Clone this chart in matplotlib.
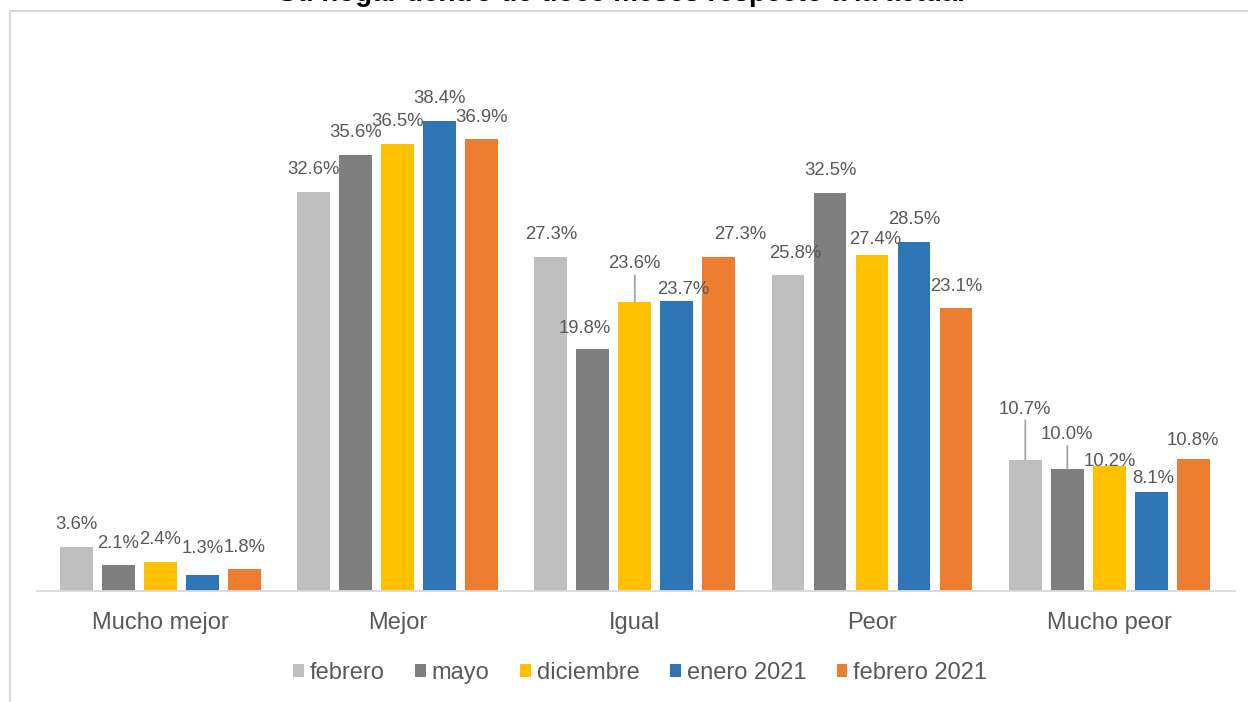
import matplotlib.pyplot as plt
import numpy as np

plt.rcParams['font.family'] = ['Liberation Sans', 'DejaVu Sans']

categories = ["Mucho mejor", "Mejor", "Igual", "Peor", "Mucho peor"]
series_names = ["febrero", "mayo", "diciembre", "enero 2021", "febrero 2021"]
febrero = [3.6, 32.6, 27.3, 25.8, 10.7]
mayo = [2.1, 35.6, 19.8, 32.5, 10.0]
diciembre = [2.4, 36.5, 23.6, 27.4, 10.2]
enero_2021 = [1.3, 38.4, 23.7, 28.5, 8.1]
febrero_2021 = [1.8, 36.9, 27.3, 23.1, 10.8]
title = "Su hogar dentro de doce meses respecto a la actual"

colors = ["#BFBFBF", "#7F7F7F", "#FFC000", "#2E75B6", "#ED7D31"]
text_color = "#595959"

# label nudges in pixels (series, category) -> (dx, dy, leader line)
nudges = {
    (3, 0): (0, 5, False),
    (1, 2): (-8, -2, False),
    (2, 2): (0, 16, True),
    (3, 2): (6, -11, False),
    (4, 2): (21, 0, False),
    (0, 3): (7, 0, False),
    (2, 3): (3, -6, False),
    (0, 4): (0, 29, True),
    (1, 4): (0, 12, True),
    (2, 4): (0, -17, False),
    (3, 4): (2, -9, False),
    (4, 4): (0, -4, False),
}


def main():
    data = [febrero, mayo, diciembre, enero_2021, febrero_2021]
    x = np.arange(len(categories))
    step = 0.177
    width = 0.138

    fig = plt.figure(figsize=(12.48, 7.02), dpi=100)
    ax = fig.add_axes([0.0296, 0.158, 0.96, 0.698])

    for i, (name, vals) in enumerate(zip(series_names, data)):
        xs = x + (i - 2) * step
        ax.bar(xs, vals, width, color=colors[i], label=name, zorder=2)
        for j, v in enumerate(vals):
            dx, dy, leader = nudges.get((i, j), (0, 0, False))
            kw = {}
            if leader:
                kw["arrowprops"] = dict(arrowstyle="-", color="#A6A6A6", lw=1.3,
                                        shrinkA=0, shrinkB=0, relpos=(0.5, 0))
            ax.annotate(f"{v:.1f}%", xy=(xs[j], v), xytext=(dx, 22 + dy),
                        textcoords="offset pixels", ha="center", va="center",
                        fontsize=13.3, color=text_color, **kw)

    ax.set_xlim(-0.52, 4.53)
    ax.set_ylim(0, 40)
    ax.set_xticks(x)
    ax.set_xticklabels(categories, fontsize=17, color=text_color)
    ax.tick_params(axis="x", length=0, pad=15)
    ax.set_yticks([])
    for s in ["top", "left", "right"]:
        ax.spines[s].set_visible(False)
    ax.spines["bottom"].set_color("#D9D9D9")
    ax.spines["bottom"].set_linewidth(1.3)

    leg = fig.legend(loc="center", bbox_to_anchor=(0.513, 0.041), ncol=5,
                     frameon=False, fontsize=17, handlelength=0.45,
                     handleheight=0.45, handletextpad=0.25, columnspacing=1.3)
    for t in leg.get_texts():
        t.set_color(text_color)

    fig.text(0.498, 0.998, title, ha="center", va="baseline", fontsize=20,
             fontweight="bold", color="black")

    # chart border lines (top and left visible in the crop)
    fig.add_artist(plt.Line2D([10 / 1248, 1], [1 - 11 / 702] * 2,
                              transform=fig.transFigure, color="#D9D9D9", lw=1.5))
    fig.add_artist(plt.Line2D([10 / 1248] * 2, [0, 1 - 11 / 702],
                              transform=fig.transFigure, color="#D9D9D9", lw=1.5))

    fig.savefig("out.png", dpi=100)
    plt.close(fig)


if __name__ == "__main__":
    main()
